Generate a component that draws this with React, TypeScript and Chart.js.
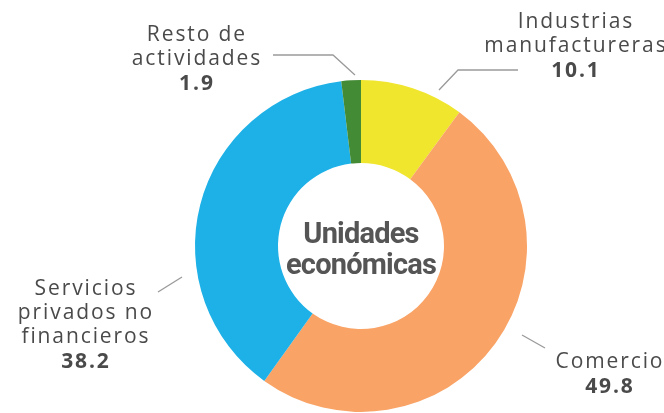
import React, { useEffect, useRef } from "react";
import { Chart, registerables } from "chart.js";

Chart.register(...registerables);

const categories = ["Industrias manufactureras", "Comercio", "Servicios privados no financieros", "Resto de actividades"];
const values = [10.1, 49.8, 38.2, 1.9];
const labelLines = [["Industrias", "manufactureras"], ["Comercio"], ["Servicios", "privados no", "financieros"], ["Resto de", "actividades"]];
const valueLabels = ["10.1", "49.8", "38.2", "1.9"];
const centerTitle = ["Unidades", "económicas"];
const colors = ["#F0E62D", "#F9A366", "#1EB1E7", "#448B35"];

// label layout relative to doughnut center: leader line points, text center x, first baseline y
const layouts = [
  { line: [[78, -156], [97, -176], [157, -176]], tx: 214, ty: -218 },
  { line: [[161, 89], [184, 102]], tx: 248, ty: 122 },
  { line: [[-179, 31], [-203, 46]], tx: -276, ty: 49 },
  { line: [[-6, -171], [-28, -191], [-88, -191]], tx: -165, ty: -205 },
];

const labelPlugin = {
  id: "sliceLabels",
  afterDraw(chart: any) {
    const ctx = chart.ctx;
    const arc = chart.getDatasetMeta(0).data[0];
    const cx = arc.x;
    const cy = arc.y;
    ctx.save();
    ctx.strokeStyle = "#9a9a9a";
    ctx.lineWidth = 1.3;
    layouts.forEach((l) => {
      ctx.beginPath();
      l.line.forEach((p, i) => {
        if (i === 0) ctx.moveTo(cx + p[0], cy + p[1]);
        else ctx.lineTo(cx + p[0], cy + p[1]);
      });
      ctx.stroke();
    });
    ctx.textAlign = "center";
    ctx.textBaseline = "alphabetic";
    ctx.fillStyle = "#4a4a4a";
    const sp = 1.9;
    (ctx as any).letterSpacing = sp + "px";
    layouts.forEach((l, i) => {
      let y = cy + l.ty;
      ctx.font = "21px 'Open Sans'";
      labelLines[i].forEach((t) => {
        ctx.fillText(t, cx + l.tx + sp / 2, y);
        y += 24;
      });
      ctx.font = "bold 21px 'Open Sans'";
      ctx.fillText(valueLabels[i], cx + l.tx + sp / 2, y + 1);
    });
    (ctx as any).letterSpacing = "-0.8px";
    ctx.font = "bold 29px Roboto";
    ctx.fillStyle = "#555555";
    ctx.fillText(centerTitle[0], cx, cy - 3);
    ctx.fillText(centerTitle[1], cx, cy + 28);
    ctx.restore();
  },
};

export default function App() {
  const ref = useRef<HTMLCanvasElement>(null);
  useEffect(() => {
    if (!ref.current) return;
    const chart = new Chart(ref.current, {
      type: "doughnut",
      data: {
        labels: categories,
        datasets: [
          {
            data: values,
            backgroundColor: colors,
            borderWidth: 0,
          },
        ],
      },
      options: {
        animation: false,
        responsive: false,
        cutout: "50%",
        rotation: 0,
        layout: { padding: { left: 195, right: 137, top: 80, bottom: 1 } },
        plugins: {
          legend: { display: false },
          tooltip: { enabled: false },
        },
      },
      plugins: [labelPlugin],
    });
    return () => chart.destroy();
  }, []);
  return (
    <div style={{ position: "fixed", left: 0, top: 0, width: 664, height: 413, background: "#fff" }}>
      <canvas ref={ref} width={664} height={413} style={{ width: 664, height: 413 }} />
    </div>
  );
}
